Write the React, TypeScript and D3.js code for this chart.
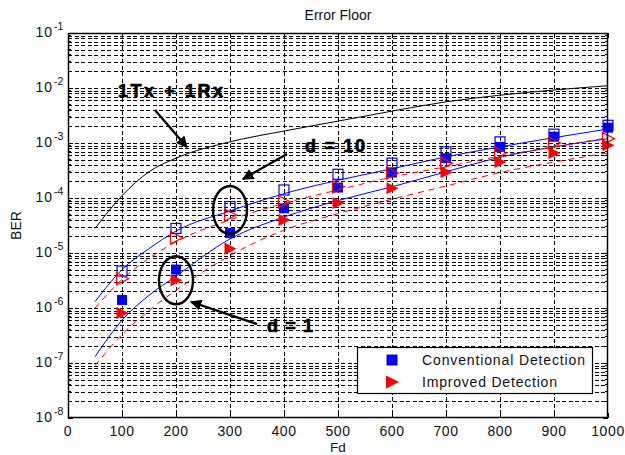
import React from "react";
import * as d3 from "d3";

// ---- data ----
const fdPoints = [100, 200, 300, 400, 500, 600, 700, 800, 900, 1000];
const convD10 = [4.7e-6, 2.8e-5, 7.0e-5, 1.4e-4, 2.7e-4, 4.3e-4, 6.9e-4, 1.05e-3, 1.45e-3, 2.1e-3];
const convD1 = [1.4e-6, 5.0e-6, 2.3e-5, 6.5e-5, 1.55e-4, 2.9e-4, 5.3e-4, 8.5e-4, 1.3e-3, 1.9e-3];
const imprD10 = [3.4e-6, 1.9e-5, 4.9e-5, 8.5e-5, 1.6e-4, 2.85e-4, 4.3e-4, 6.6e-4, 1.0e-3, 1.2e-3];
const imprD1 = [8.1e-7, 3.2e-6, 1.2e-5, 4.0e-5, 8.1e-5, 1.5e-4, 2.95e-4, 4.5e-4, 6.6e-4, 9.1e-4];

const curveFd = [50, 100, 150, 200, 300, 400, 500, 600, 700, 800, 900, 1000];
const theoryConvD10 = [1.3e-6, 5.0e-6, 1.2e-5, 2.5e-5, 5.8e-5, 1.2e-4, 2.1e-4, 3.4e-4, 5.6e-4, 8.5e-4, 1.25e-3, 1.8e-3];
const theoryConvD1 = [1.3e-7, 6.0e-7, 1.7e-6, 3.8e-6, 1.8e-5, 4.5e-5, 9.0e-5, 1.6e-4, 3.0e-4, 5.5e-4, 8.5e-4, 1.2e-3];
const theoryImprD10 = [1.0e-6, 3.3e-6, 8.0e-6, 1.6e-5, 4.0e-5, 8.0e-5, 1.4e-4, 2.4e-4, 3.7e-4, 5.8e-4, 8.5e-4, 1.25e-3];
const theoryImprD1 = [9.0e-8, 3.3e-7, 9.0e-7, 2.1e-6, 9.0e-6, 2.6e-5, 5.2e-5, 9.5e-5, 1.65e-4, 2.9e-4, 4.5e-4, 6.6e-4];
const oneTxOneRx = [2.8e-5, 1.1e-4, 3.0e-4, 5.3e-4, 1.05e-3, 1.65e-3, 2.5e-3, 3.8e-3, 5.6e-3, 7.4e-3, 9.2e-3, 1.1e-2];

const xTicks = [0, 100, 200, 300, 400, 500, 600, 700, 800, 900, 1000];
const yExponents = [-1, -2, -3, -4, -5, -6, -7, -8];

const titleText = "Error Floor";
const xLabel = "Fd";
const yLabel = "BER";
const legendLabels = ["Conventional Detection", "Improved Detection"];

// annotations in data units
const annoTexts = [
  { text: "1Tx + 1Rx", fd: 92.6, ber: 6.86e-3, len: 105 },
  { text: "d = 10", fd: 439, ber: 6.86e-4, len: 60 },
  { text: "d = 1", fd: 368.5, ber: 3.66e-7, len: 46 },
];
const annoArrows = [
  { fd1: 161, ber1: 3.98e-3, fd2: 220, ber2: 8.45e-4 },
  { fd1: 405.6, ber1: 6.3e-4, fd2: 324, ber2: 2.21e-4 },
  { fd1: 350, ber1: 5.1e-7, fd2: 228, ber2: 1.29e-6 },
];
const annoEllipses = [
  { fd: 300, ber: 6.05e-5 },
  { fd: 200, ber: 3.2e-6 },
];

// ---- layout ----
const W = 625, H = 455;
const L = 68, R = 608, T = 33, B = 418;
const FONT = "'Liberation Sans', Arial, Helvetica, sans-serif";
const BLUE = "#0000ff";
const RED = "#ff0000";

export default function App() {
  const x = d3.scaleLinear().domain([0, 1000]).range([L, R]);
  const y = d3.scaleLog().domain([1e-8, 1e-1]).range([B, T]);

  const line = d3
    .line<[number, number]>()
    .x((d) => x(d[0]))
    .y((d) => y(d[1]))
    .curve(d3.curveMonotoneX);
  const mk = (vals: number[]) => line(curveFd.map((f, i) => [f, vals[i]] as [number, number])) || "";

  const hGrid: number[] = [];
  for (let e = -8; e <= -2; e++) {
    for (let k = 1; k <= 9; k++) {
      const v = k * Math.pow(10, e);
      if (v > 1e-8 * 1.0001 && v < 1e-1 * 0.9999) hGrid.push(v);
    }
  }
  const minorTicks: number[] = [];
  for (let e = -8; e <= -2; e++) for (let k = 2; k <= 9; k++) minorTicks.push(k * Math.pow(10, e));

  const sq = 10;
  const tri = (cx: number, cy: number, s: number) =>
    `M${cx - s * 0.5},${cy - s * 0.55}L${cx + s * 0.6},${cy}L${cx - s * 0.5},${cy + s * 0.55}Z`;

  return (
    <svg width={W} height={H} style={{ position: "absolute", left: 0, top: 0, background: "#fff" }} fontFamily={FONT}>
      <defs>
        <marker id="ah" viewBox="0 0 10 10" refX="9" refY="5" markerWidth="5" markerHeight="5" orient="auto">
          <path d="M0,0L10,5L0,10Z" fill="#000" />
        </marker>
        <clipPath id="plotclip">
          <rect x={L} y={T} width={R - L} height={B - T} />
        </clipPath>
      </defs>
      <rect x={0} y={0} width={W} height={H} fill="#fff" />
      <rect x={L} y={T} width={R - L} height={B - T} fill="#fff" />

      {/* grid */}
      <g stroke="#000" strokeWidth={1} strokeDasharray="4,2.5" shapeRendering="crispEdges">
        {xTicks.slice(1, -1).map((t) => (
          <line key={"vx" + t} x1={Math.round(x(t)) + 0.5} x2={Math.round(x(t)) + 0.5} y1={T} y2={B} />
        ))}
        {hGrid.map((v, i) => (
          <line key={"hy" + i} x1={L} x2={R} y1={Math.round(y(v)) + 0.5} y2={Math.round(y(v)) + 0.5} />
        ))}
      </g>

      {/* ticks */}
      <g stroke="#000" strokeWidth={1} shapeRendering="crispEdges">
        {xTicks.map((t) => (
          <g key={"tx" + t}>
            <line x1={x(t)} x2={x(t)} y1={B} y2={B - 5} />
            <line x1={x(t)} x2={x(t)} y1={T} y2={T + 5} />
          </g>
        ))}
        {yExponents.map((e) => (
          <g key={"ty" + e}>
            <line x1={L} x2={L + 5} y1={y(Math.pow(10, e))} y2={y(Math.pow(10, e))} />
            <line x1={R} x2={R - 5} y1={y(Math.pow(10, e))} y2={y(Math.pow(10, e))} />
          </g>
        ))}
        {minorTicks.map((v, i) => (
          <g key={"mt" + i}>
            <line x1={L} x2={L + 3} y1={y(v)} y2={y(v)} />
            <line x1={R} x2={R - 3} y1={y(v)} y2={y(v)} />
          </g>
        ))}
      </g>

      {/* curves */}
      <g clipPath="url(#plotclip)" fill="none">
        <path d={mk(oneTxOneRx)} stroke="#000" strokeWidth={1} />
        <path d={mk(theoryConvD10)} stroke={BLUE} strokeWidth={1} />
        <path d={mk(theoryConvD1)} stroke={BLUE} strokeWidth={1} />
        <path d={mk(theoryImprD10)} stroke={RED} strokeWidth={1} strokeDasharray="6,5" />
        <path d={mk(theoryImprD1)} stroke={RED} strokeWidth={1} strokeDasharray="6,5" />
      </g>

      {/* markers */}
      <g>
        {fdPoints.map((f, i) => (
          <rect key={"cd1" + f} x={x(f) - sq / 2} y={y(convD1[i]) - sq / 2} width={sq} height={sq} fill={BLUE} />
        ))}
        {fdPoints.map((f, i) => (
          <path key={"id1" + f} d={tri(x(f), y(imprD1[i]), 11)} fill={RED} />
        ))}
        {fdPoints.map((f, i) => (
          <rect key={"cd10" + f} x={x(f) - sq / 2} y={y(convD10[i]) - sq / 2} width={sq} height={sq} fill="none" stroke={BLUE} strokeWidth={1.2} />
        ))}
        {fdPoints.map((f, i) => (
          <path key={"id10" + f} d={tri(x(f), y(imprD10[i]), 11)} fill="none" stroke={RED} strokeWidth={1.2} />
        ))}
      </g>

      {/* axes box */}
      <rect x={L + 0.5} y={T + 0.5} width={R - L - 1} height={B - T - 1} fill="none" stroke="#000" strokeWidth={1.5} />

      {/* annotations */}
      <g>
        {annoEllipses.map((a, i) => (
          <ellipse key={"el" + i} cx={x(a.fd)} cy={y(a.ber)} rx={17} ry={24} fill="none" stroke="#000" strokeWidth={2.4} />
        ))}
        {annoArrows.map((a, i) => (
          <line key={"ar" + i} x1={x(a.fd1)} y1={y(a.ber1)} x2={x(a.fd2)} y2={y(a.ber2)} stroke="#000" strokeWidth={2.3} markerEnd="url(#ah)" />
        ))}
        {annoTexts.map((a, i) => (
          <text key={"at" + i} x={x(a.fd)} y={y(a.ber)} fontSize={18} fontWeight="bold" fill="#000" stroke="#000" strokeWidth={0.7} textLength={a.len} lengthAdjust="spacing">
            {a.text}
          </text>
        ))}
      </g>

      {/* legend */}
      <g>
        <rect x={357.5} y={347.5} width={235} height={46} fill="#fff" stroke="#000" strokeWidth={1.2} />
        <rect x={392 - 5.5} y={360 - 5.5} width={11} height={11} fill={BLUE} />
        <path d={tri(392, 382, 12)} fill={RED} />
        <text x={422} y={365} fontSize={14} fill="#111" textLength={163} lengthAdjust="spacing">{legendLabels[0]}</text>
        <text x={422} y={387} fontSize={14} fill="#111" textLength={135} lengthAdjust="spacing">{legendLabels[1]}</text>
      </g>

      {/* x tick labels */}
      <g fontSize={14} fill="#111" textAnchor="middle">
        {xTicks.map((t) => (
          <text key={"xl" + t} x={x(t)} y={436} letterSpacing={0.6}>{t}</text>
        ))}
      </g>
      {/* y tick labels */}
      <g fill="#111">
        {yExponents.map((e) => (
          <g key={"yl" + e}>
            <text x={53} y={y(Math.pow(10, e)) + 4} fontSize={14} textAnchor="end" letterSpacing={1}>10</text>
            <text x={54} y={y(Math.pow(10, e)) - 3} fontSize={10.5}>{String(e)}</text>
          </g>
        ))}
      </g>

      {/* titles */}
      <text x={(L + R) / 2} y={20} fontSize={14} textAnchor="middle" fill="#111">{titleText}</text>
      <text x={(L + R) / 2} y={452} fontSize={13.5} textAnchor="middle" fill="#111">{xLabel}</text>
      <text transform={`translate(21,${(T + B) / 2}) rotate(-90)`} fontSize={14} textAnchor="middle" fill="#111">{yLabel}</text>
    </svg>
  );
}
